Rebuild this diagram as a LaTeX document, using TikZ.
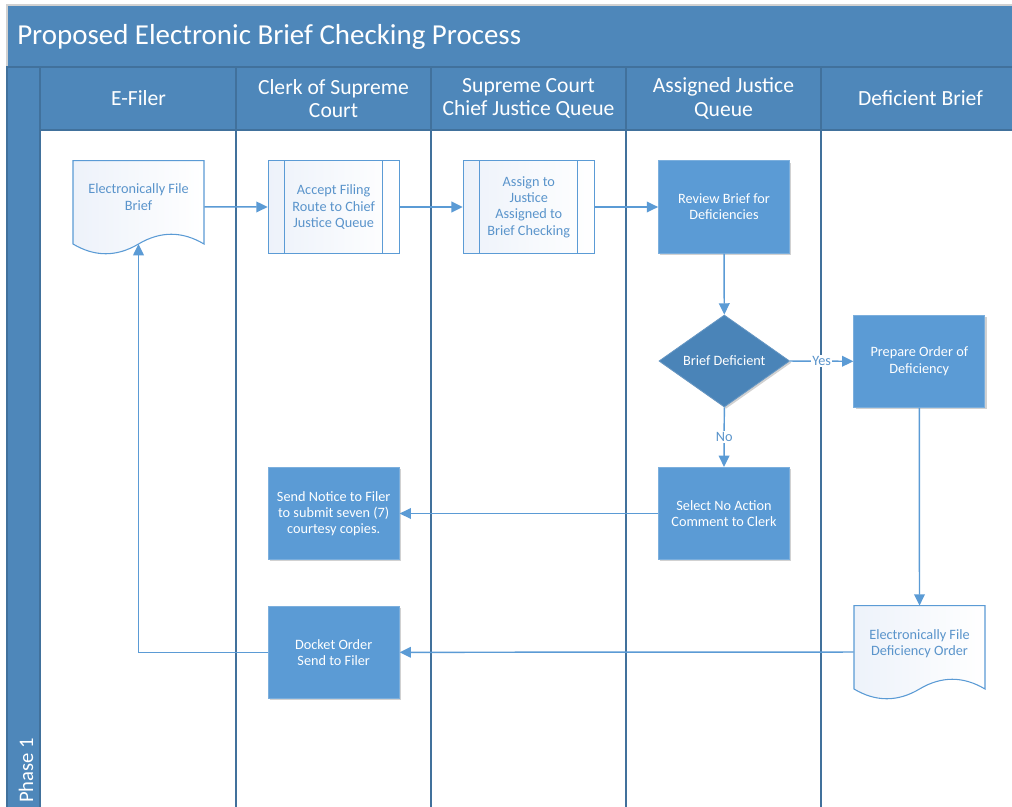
\documentclass[tikz,border=0pt]{standalone}
\usepackage{fontspec}
\setmainfont{Carlito}
\usetikzlibrary{arrows.meta,shapes.geometric,shadows}
\definecolor{hdr}{HTML}{4E87BA}
\definecolor{hdrline}{HTML}{41719C}
\definecolor{proc}{HTML}{5B9BD5}
\definecolor{dia}{HTML}{4A84B8}
\definecolor{txtb}{HTML}{5A94CB}
\definecolor{pale}{HTML}{EDF2FA}
\begin{document}
\begin{tikzpicture}[x=0.75pt,y=-0.75pt,
  lane/.style={draw=hdrline, line width=1.1pt},
  hdrcell/.style={fill=hdr, draw=hdrline, line width=0.9pt},
  hdrtext/.style={text=white, align=center, font=\fontsize{16.2}{17.4}\selectfont, inner sep=0pt},
  body/.style={align=center, font=\fontsize{10.7}{12.2}\selectfont, inner sep=0pt},
  shp/.style={minimum width=98.25pt, minimum height=69.2pt, inner sep=0pt},
  procbox/.style={shp, rectangle, fill=proc, draw=proc!80!white, line width=0.6pt, text=white, body,
     drop shadow={shadow xshift=1.3pt, shadow yshift=-1.3pt, opacity=0.18, fill=black}},
  subbox/.style={shp, rectangle, left color=pale, right color=white, draw=proc, line width=0.8pt, text=txtb, body},
  docbox/.style={shp, rectangle},
  docline/.style={left color=pale, right color=white, draw=proc, line width=0.8pt},
  decide/.style={diamond, aspect=1.42, minimum width=98pt, minimum height=69pt, inner sep=0pt,
     fill=dia, draw=dia!85!white, line width=0.6pt, text=white, body,
     drop shadow={shadow xshift=1.3pt, shadow yshift=-1.3pt, opacity=0.18, fill=black}},
  conn/.style={draw=proc, line width=1.1pt, -{Triangle[length=8.5pt,width=8pt]}},
  lbl/.style={fill=white, text=txtb, font=\fontsize{10.7}{12.2}\selectfont, inner sep=1pt}
]
\useasboundingbox (0,0) rectangle (1012,806);
\clip (0,0) rectangle (1012,806);
\fill[white] (0,0) rectangle (1012,806);

% outer container and title band
\draw[fill=hdr, draw=black!18, line width=0.8pt] (7,5) rectangle (1030,67);
\node[anchor=west, text=white, font=\fontsize{21.7}{24}\selectfont, inner sep=0pt] (title) at (17,36.5) {Proposed Electronic Brief Checking Process};

% phase column
\draw[hdrcell] (7,67) rectangle (40,830);
\node[rotate=90, anchor=base west, text=white, font=\fontsize{15.5}{17}\selectfont, inner sep=0pt] (phase) at (33.2,803) {Phase 1};

% lane headers
\draw[hdrcell] (40,67) rectangle (236,130);
\draw[hdrcell] (236,67) rectangle (431,130);
\draw[hdrcell] (431,67) rectangle (626,130);
\draw[hdrcell] (626,67) rectangle (821,130);
\draw[hdrcell] (821,67) rectangle (1030,130);
\node[hdrtext] (h1) at (138.5,98.5) {E-Filer};
\node[hdrtext] (h2) at (333.5,98.5) {Clerk of Supreme\\Court};
\node[hdrtext] (h3) at (528.5,98.5) {Supreme Court\\Chief Justice Queue};
\node[hdrtext] (h4) at (723.5,98.5) {Assigned Justice\\Queue};
\node[hdrtext] (h5) at (920.5,98.5) {Deficient Brief};

% lane separators
\draw[lane] (40,130) -- (40,830);
\draw[lane] (236,130) -- (236,830);
\draw[lane] (431,130) -- (431,830);
\draw[lane] (626,130) -- (626,830);
\draw[lane] (821,130) -- (821,830);

% document shapes
\node[docbox] (doc1) at (138.5,206.85) {};
\draw[docline] (73,160.7) -- (204,160.7) -- (204,244)
   .. controls (182.2,231) and (160.3,231) .. (138.5,244)
   .. controls (116.7,257) and (94.8,257) .. (73,244) -- cycle;
\node[body, text=txtb] (doc1t) at (138.5,197) {Electronically File\\Brief};
\coordinate (doc1b) at (138.5,244);

\node[docbox] (doc2) at (919.5,652) {};
\draw[docline] (854,605.7) -- (985,605.7) -- (985,689)
   .. controls (963.2,676) and (941.3,676) .. (919.5,689)
   .. controls (897.7,702) and (875.8,702) .. (854,689) -- cycle;
\node[body, text=txtb] (doc2t) at (919.5,643.5) {Electronically File\\Deficiency Order};

% sub-process boxes
\node[subbox] (accept) at (333.7,207) {Accept Filing\\Route to Chief\\Justice Queue};
\draw[draw=proc, line width=0.8pt] ([xshift=12.75pt]accept.north west) -- ([xshift=12.75pt]accept.south west);
\draw[draw=proc, line width=0.8pt] ([xshift=-12.75pt]accept.north east) -- ([xshift=-12.75pt]accept.south east);
\node[subbox] (assign) at (528.8,207) {Assign to\\Justice\\Assigned to\\Brief Checking};
\draw[draw=proc, line width=0.8pt] ([xshift=12.75pt]assign.north west) -- ([xshift=12.75pt]assign.south west);
\draw[draw=proc, line width=0.8pt] ([xshift=-12.75pt]assign.north east) -- ([xshift=-12.75pt]assign.south east);

% process boxes
\node[procbox] (review) at (724,207) {Review Brief for\\Deficiencies};
\node[decide] (dec) at (724.3,361) {Brief Deficient};
\node[procbox] (prepare) at (919.3,361.3) {Prepare Order of\\Deficiency};
\node[procbox] (select) at (724,513.5) {Select No Action\\Comment to Clerk};
\node[procbox] (notice) at (333.7,513.5) {Send Notice to Filer\\to submit seven (7)\\courtesy copies.};
\node[procbox] (docket) at (333.7,652.3) {Docket Order\\Send to Filer};

% connectors
\draw[conn] (doc1.east) -- (accept.west);
\draw[conn] (accept.east) -- (assign.west);
\draw[conn] (assign.east) -- (review.west);
\draw[conn] (review.south) -- (dec.north);
\draw[conn] (dec.east) -- node[lbl] (yes) {Yes} (prepare.west);
\draw[conn] (dec.south) -- node[lbl] (no) {No} (select.north);
\draw[conn] (select.west) -- (notice.east);
\draw[conn] (prepare.south) -- (doc2.north);
\draw[conn] (doc2.west) -- (docket.east);
\draw[conn] (docket.west) -| (doc1b);
\end{tikzpicture}
\end{document}
